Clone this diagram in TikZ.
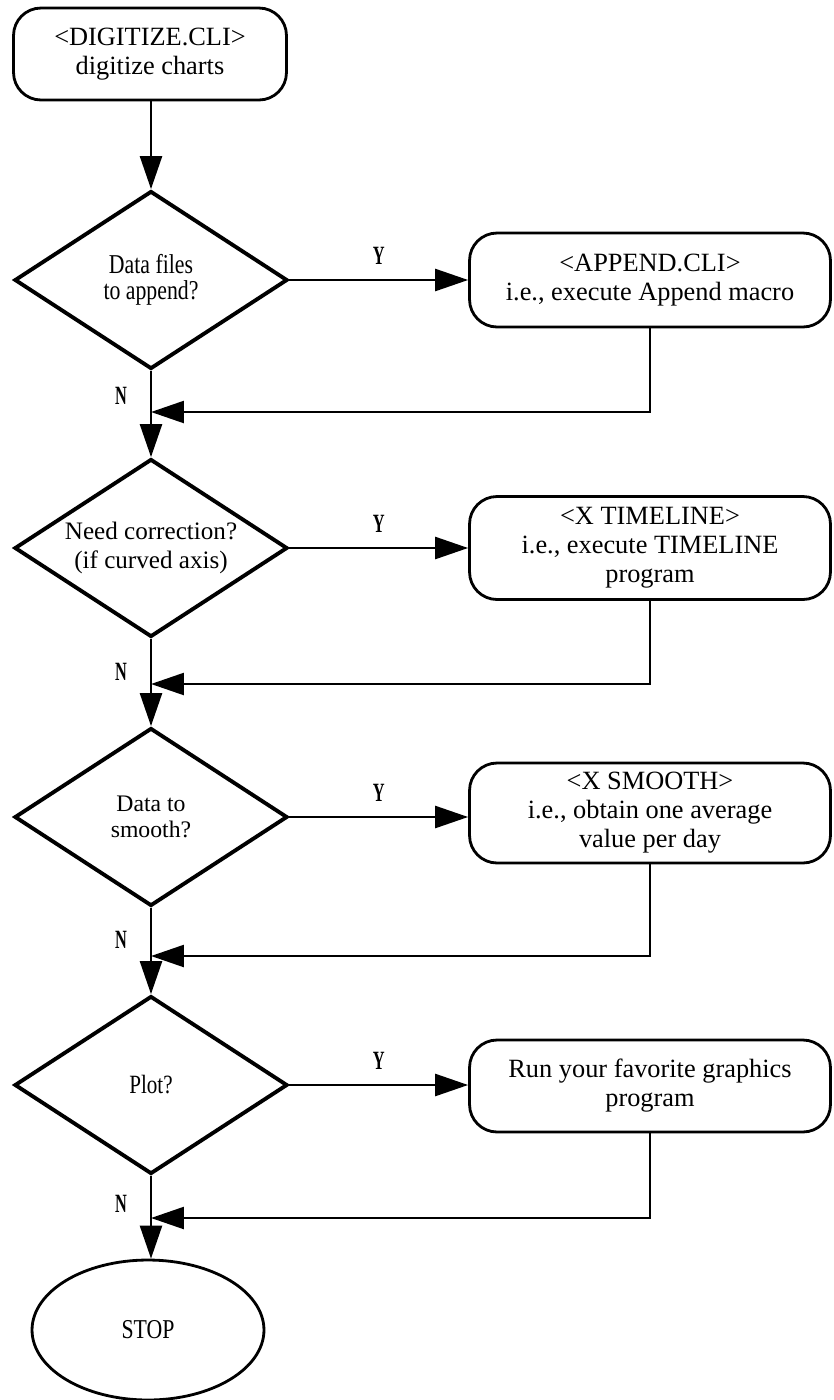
\documentclass[tikz,border=0pt]{standalone}
\usepackage{fontspec}
\setmainfont{Liberation Serif}
\newfontfamily\condfont{Liberation Serif}[FakeStretch=0.8]
\newfontfamily\narrowfont{Liberation Serif}[FakeStretch=0.62]
\usetikzlibrary{shapes.geometric,arrows.meta}

\begin{document}
\begin{tikzpicture}[x=0.02cm,y=-0.02cm,
			process/.style = {draw, line width=1.6pt, rounded corners=0.55cm, align=center,
				minimum width=7.22cm, inner sep=0pt, font=\fontsize{15}{16.5}\selectfont},
			decision/.style = {draw, diamond, aspect=1.54, line width=2.2pt, align=center,
				minimum width=5.46cm, minimum height=3.56cm, inner sep=0pt},
			terminal/.style = {draw, ellipse, line width=1.6pt, minimum width=4.64cm,
				minimum height=2.8cm, font=\condfont\fontsize{15.5}{17}\selectfont},
			flow/.style = {line width=1.4pt, -{Triangle[length=0.66cm,width=0.44cm]}},
			yn/.style = {font=\narrowfont\bfseries\fontsize{15}{17}\selectfont}]
			\useasboundingbox (0,0) rectangle (833,1400);
			
			\node[process, minimum width=5.46cm, minimum height=1.84cm] (dig) at (150,54)
				{<DIGITIZE.CLI>\\digitize charts};
			
			\node[decision, font=\condfont\fontsize{15.5}{14.5}\selectfont] (d1) at (151,280) {Data files\\to append?};
			\node[process, minimum height=1.88cm] (b1) at (650,280) {<APPEND.CLI>\\i.e., execute Append macro};
			\coordinate (j1) at (151,412);
			
			\node[decision, font=\fontsize{14.3}{16}\selectfont] (d2) at (151,548) {Need correction?\\(if curved axis)};
			\node[process, minimum height=2.06cm] (b2) at (650,548) {<X TIMELINE>\\i.e., execute TIMELINE\\program};
			\coordinate (j2) at (151,684);
			
			\node[decision, font=\fontsize{13.5}{15}\selectfont] (d3) at (151,817) {Data to\\smooth?};
			\node[process, minimum height=2.0cm] (b3) at (650,813) {<X SMOOTH>\\i.e., obtain one average\\value per day};
			\coordinate (j3) at (151,956);
			
			\node[decision, font=\condfont\fontsize{15}{17}\selectfont] (d4) at (151,1085) {Plot?};
			\node[process, minimum height=1.84cm] (b4) at (650,1086) {Run your favorite graphics\\program};
			\coordinate (j4) at (151,1218);
			
			\node[terminal] (stop) at (148,1330) {STOP};
			
			% main line
			\draw[flow] (dig.south -| d1.north) -- (d1.north);
			\draw[flow] (d1.south) -- (d2.north);
			\draw[flow] (d2.south) -- (d3.north);
			\draw[flow] (d3.south) -- (d4.north);
			\draw[flow] (d4.south) -- (d4.south |- stop.north);
			
			% yes branches
			\draw[flow] (d1.east) -- (d1.east -| b1.west) node[yn, midway, above=5pt] {Y};
			\draw[flow] (d2.east) -- (d2.east -| b2.west) node[yn, midway, above=5pt] {Y};
			\draw[flow] (d3.east) -- (d3.east -| b3.west) node[yn, midway, above=5pt] {Y};
			\draw[flow] (d4.east) -- (d4.east -| b4.west) node[yn, midway, above=5pt] {Y};
			
			% back to main line
			\draw[flow] (b1.south) |- (j1);
			\draw[flow] (b2.south) |- (j2);
			\draw[flow] (b3.south) |- (j3);
			\draw[flow] (b4.south) |- (j4);
			
			\node[yn] (n1) at (121,396) {N};
			\node[yn] (n2) at (121,672) {N};
			\node[yn] (n3) at (121,940) {N};
			\node[yn] (n4) at (121,1204) {N};
		\end{tikzpicture}
\end{document}
